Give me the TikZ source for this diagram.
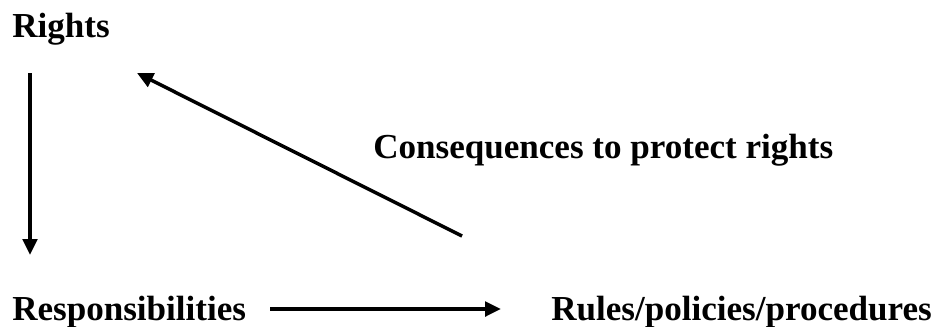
\documentclass[tikz,border=0pt]{standalone}
\usepackage{fontspec}
\setmainfont{Liberation Serif}
\usetikzlibrary{arrows.meta}

\begin{document}
\begin{tikzpicture}[x=0.75pt, y=-0.75pt,
    every node/.style={font=\fontsize{26.3}{30}\selectfont\bfseries, inner sep=0pt, anchor=base west},
    link/.style={line width=2.6pt, -{Triangle[length=12pt, width=11pt]}}]
    \useasboundingbox (0,0) rectangle (939,326);

    \node (rights) at (12, 37) {Rights};
    \node (resp) at (12, 320) {Responsibilities};
    \node (rules) at (551, 320) {Rules/policies/procedures};
    \node (cons) at (373, 158) {Consequences to protect rights};

    \coordinate (r1) at (30, 73);
    \coordinate (r2) at (30, 255);
    \coordinate (h1) at (270, 309);
    \coordinate (h2) at (501, 309);
    \coordinate (c1) at (462, 236);
    \coordinate (c2) at (137, 73);

    \draw[link] (r1) -- (r2);
    \draw[link] (h1) -- (h2);
    \draw[link] (c1) -- (c2);
\end{tikzpicture}
\end{document}
